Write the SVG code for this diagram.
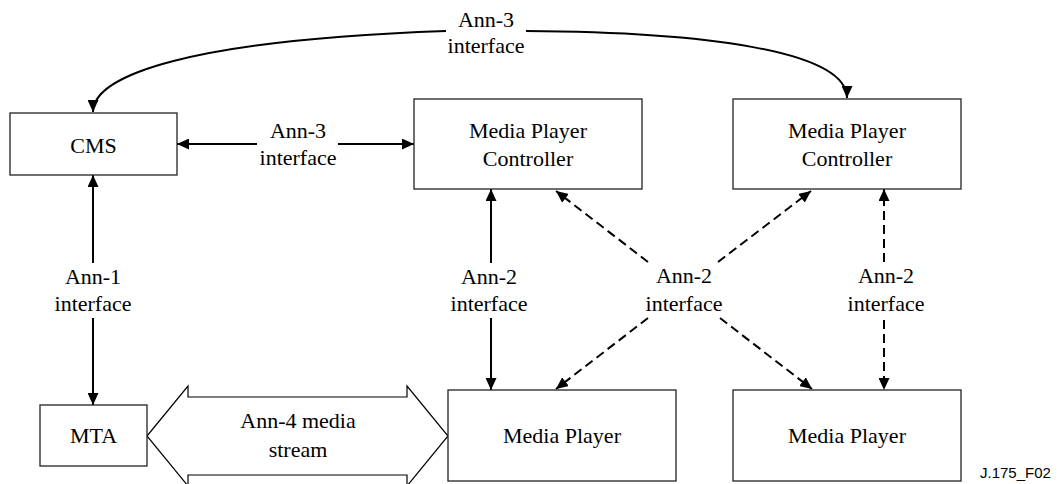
<svg xmlns="http://www.w3.org/2000/svg" width="1059" height="484" viewBox="0 0 1059 484">
<style>
.box{fill:#fff;stroke:#222;stroke-width:1.3}
.t{font-family:"Liberation Serif","Times New Roman",serif;font-size:22px;fill:#000;text-anchor:middle}
.c{fill:none;stroke:#000;stroke-width:2}
.d{fill:none;stroke:#000;stroke-width:2;stroke-dasharray:9 5}
.lab{font-family:"Liberation Serif","Times New Roman",serif;font-size:22px;fill:#000;text-anchor:middle}
.fig{font-family:"Liberation Sans",Arial,sans-serif;font-size:15px;fill:#000}
</style>
<defs>
<marker id="ah" markerWidth="12" markerHeight="11" refX="12" refY="5.5" orient="auto" markerUnits="userSpaceOnUse">
<path d="M0,0 L12,5.5 L0,11 Z" fill="#000"/>
</marker>
</defs>
<rect width="1059" height="484" fill="#fff"/>

<g id="connectors">
<!-- top curved Ann-3 -->
<path class="c" d="M446,31 C190,40 93,75 93,112" marker-end="url(#ah)"/>
<path class="c" d="M526,31 C700,32 847,50 847,98" marker-end="url(#ah)"/>
<text class="lab" x="486" y="27">Ann-3</text>
<text class="lab" x="486" y="53">interface</text>

<!-- CMS <-> MPC1 -->
<line class="c" x1="257" y1="144" x2="177" y2="144" marker-end="url(#ah)"/>
<line class="c" x1="338" y1="144" x2="414" y2="144" marker-end="url(#ah)"/>
<text class="lab" x="298" y="138">Ann-3</text>
<text class="lab" x="298" y="165">interface</text>

<!-- CMS <-> MTA -->
<line class="c" x1="93" y1="263" x2="93" y2="175" marker-end="url(#ah)"/>
<line class="c" x1="93" y1="318" x2="93" y2="405" marker-end="url(#ah)"/>
<text class="lab" x="93" y="284">Ann-1</text>
<text class="lab" x="93" y="311">interface</text>

<!-- MPC1 <-> MP1 -->
<line class="c" x1="491" y1="263" x2="491" y2="189" marker-end="url(#ah)"/>
<line class="c" x1="491" y1="318" x2="491" y2="390" marker-end="url(#ah)"/>
<text class="lab" x="489" y="284">Ann-2</text>
<text class="lab" x="489" y="311">interface</text>

<!-- diagonals -->
<line class="d" x1="648" y1="262" x2="556" y2="191" marker-end="url(#ah)"/>
<line class="d" x1="720" y1="318" x2="812" y2="389" marker-end="url(#ah)"/>
<line class="d" x1="718" y1="262" x2="811" y2="191" marker-end="url(#ah)"/>
<line class="d" x1="648" y1="318" x2="556" y2="389" marker-end="url(#ah)"/>
<text class="lab" x="684" y="283">Ann-2</text>
<text class="lab" x="684" y="311">interface</text>

<!-- MPC2 <-> MP2 dashed -->
<line class="d" x1="884" y1="262" x2="884" y2="189" marker-end="url(#ah)"/>
<line class="d" x1="884" y1="320" x2="884" y2="390" marker-end="url(#ah)"/>
<text class="lab" x="886" y="283">Ann-2</text>
<text class="lab" x="886" y="311">interface</text>

<!-- Ann-4 media stream block arrow -->
<polygon points="147,436 188,386 188,397 407,397 407,386 448,436 407,486 407,475 188,475 188,486" fill="#fff" stroke="#000" stroke-width="1.2"/>
<text class="lab" x="298" y="428">Ann-4 media</text>
<text class="lab" x="298" y="457">stream</text>
</g>

<g id="cms">
<rect class="box" x="10" y="113" width="167" height="62"/>
<text class="t" x="93.5" y="153">CMS</text>
</g>
<g id="mpc1">
<rect class="box" x="414" y="99" width="228" height="90"/>
<text class="t" x="528" y="138">Media Player</text>
<text class="t" x="528" y="166">Controller</text>
</g>
<g id="mpc2">
<rect class="box" x="733" y="99" width="228" height="90"/>
<text class="t" x="847" y="138">Media Player</text>
<text class="t" x="847" y="166">Controller</text>
</g>
<g id="mta">
<rect class="box" x="40" y="405" width="107" height="61"/>
<text class="t" x="93.5" y="443">MTA</text>
</g>
<g id="mp1">
<rect class="box" x="448" y="390" width="228" height="91"/>
<text class="t" x="562" y="443">Media Player</text>
</g>
<g id="mp2">
<rect class="box" x="733" y="390" width="228" height="91"/>
<text class="t" x="847" y="443">Media Player</text>
</g>
<text class="fig" x="980" y="478">J.175_F02</text>
</svg>
